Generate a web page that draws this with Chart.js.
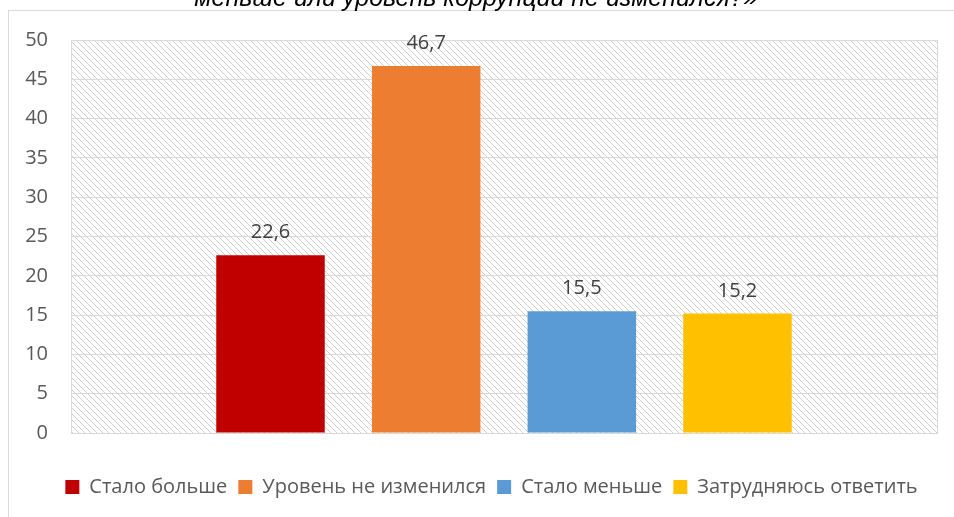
<!DOCTYPE html>
<html>
<head>
<meta charset="utf-8">
<script src="https://cdn.jsdelivr.net/npm/chart.js@4/dist/chart.umd.min.js"></script>
<style>
  body { margin: 0; background: #fff; }
  #wrap { width: 954px; height: 517px; position: relative; }
</style>
</head>
<body>
<div id="wrap"><canvas id="myChart"></canvas></div>

<script>
var titleText = "меньше или уровень коррупции не изменился?»";
var categories = [""];
var seriesNames = ["Стало больше", "Уровень не изменился", "Стало меньше", "Затрудняюсь ответить"];
var seriesValues = [22.6, 46.7, 15.5, 15.2];
var seriesColors = ["#c00000", "#ed7d31", "#5b9bd5", "#ffc000"];
var yTicks = [0, 5, 10, 15, 20, 25, 30, 35, 40, 45, 50];

var FONT = "'Open Sans', 'Noto Sans', sans-serif";

// hatch pattern for plot area
var pc = document.createElement("canvas");
pc.width = 6; pc.height = 6;
var pctx = pc.getContext("2d");
pctx.strokeStyle = "#d0d0d0";
pctx.lineWidth = 1;
pctx.beginPath();
pctx.moveTo(-1, -1); pctx.lineTo(7, 7);
pctx.moveTo(-1, 5); pctx.lineTo(1, 7);
pctx.moveTo(5, -1); pctx.lineTo(7, 1);
pctx.stroke();

var framePlugin = {
  id: "frame",
  afterLayout: function(chart) {
    // legend sits a bit right of centre in the original
    chart.legend.left += 23;
    chart.legend.right += 23;
  },
  beforeDraw: function(chart) {
    var ctx = chart.ctx, a = chart.chartArea;
    ctx.save();
    ctx.strokeStyle = "#d9d9d9";
    ctx.lineWidth = 1;
    ctx.strokeRect(8.5, 10.5, 1000, 600);
    ctx.fillStyle = ctx.createPattern(pc, "repeat");
    ctx.fillRect(a.left, a.top, a.right - a.left, a.bottom - a.top);
    // title, cut off by the top edge
    ctx.fillStyle = "#000";
    ctx.font = "italic 25px 'Liberation Sans', Arial, sans-serif";
    ctx.textAlign = "center";
    ctx.textBaseline = "alphabetic";
    ctx.fillText(titleText, 476, 6);
    ctx.restore();
  },
  afterDatasetsDraw: function(chart) {
    var ctx = chart.ctx, a = chart.chartArea;
    ctx.save();
    ctx.strokeStyle = "#d9d9d9";
    ctx.lineWidth = 1;
    ctx.strokeRect(a.left + 0.5, a.top + 0.5, a.right - a.left, a.bottom - a.top);
    ctx.fillStyle = "#404040";
    ctx.font = "20px " + FONT;
    ctx.textAlign = "center";
    ctx.textBaseline = "alphabetic";
    chart.data.datasets.forEach(function(ds, i) {
      var bar = chart.getDatasetMeta(i).data[0];
      ctx.fillText(String(ds.data[0]).replace(".", ","), bar.x, bar.y - 17);
    });
    ctx.restore();
  }
};

var datasets = seriesNames.map(function(name, i) {
  return {
    label: name,
    data: [seriesValues[i]],
    backgroundColor: seriesColors[i],
    borderWidth: 0,
    categoryPercentage: 0.719,
    barPercentage: 0.697
  };
});

new Chart("myChart", {
  type: "bar",
  data: { labels: categories, datasets: datasets },
  options: {
    responsive: true,
    maintainAspectRatio: false,
    animation: false,
    layout: { padding: { top: 40, right: 17, bottom: 10, left: 0 } },
    plugins: {
      legend: {
        position: "bottom",
        labels: {
          boxWidth: 14,
          boxHeight: 14,
          padding: 11,
          color: "#595959",
          font: { family: FONT, size: 20 }
        }
      },
      tooltip: { enabled: false }
    },
    scales: {
      x: {
        grid: { display: false },
        border: { display: false },
        ticks: { display: false },
        afterFit: function(s) { s.height = 33; }
      },
      y: {
        min: 0,
        max: 50,
        afterBuildTicks: function(s) { s.ticks = yTicks.map(function(v) { return { value: v }; }); },
        grid: { color: "#d9d9d9", drawTicks: false },
        border: { display: false },
        ticks: { color: "#595959", padding: 23, font: { family: FONT, size: 20 } },
        afterFit: function(s) { s.width = 71; }
      }
    }
  },
  plugins: [framePlugin]
});
</script>
</body>
</html>
